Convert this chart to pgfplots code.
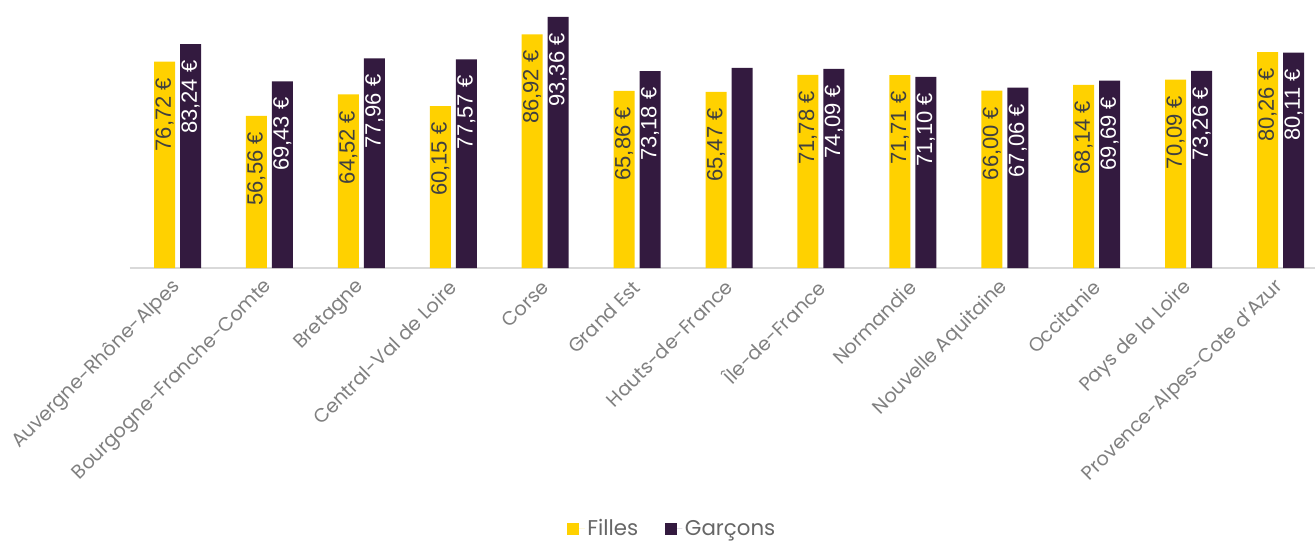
\documentclass[border=0pt]{standalone}
\usepackage{pgfplots}
\pgfplotsset{compat=1.18}
\usepackage{fontspec}
\setmainfont{Poppins}
\newfontfamily\valfont{Liberation Sans}

\definecolor{filles}{HTML}{FFD100}
\definecolor{garcons}{HTML}{331A3F}
\definecolor{ticktxt}{HTML}{808080}
\definecolor{legtxt}{HTML}{666666}
\definecolor{baseline}{HTML}{D9D9D9}

\begin{document}
\begin{tikzpicture}
\begin{axis}[
    at={(0pt,0pt)}, anchor=south west,
    scale only axis,
    width=888.75pt, height=201pt,
    xmin=-0.517, xmax=12.375,
    ymin=0, ymax=99.66,
    enlargelimits=false,
    clip=false,
    ybar=3.75pt, bar width=15.75pt,
    hide y axis,
    axis x line*=bottom,
    axis line style={draw=baseline, line width=1pt},
    x axis line style={-},
    major tick length=0pt,
    xtick={0,...,12},
    xticklabels={Auvergne-Rhône-Alpes, Bourgogne-Franche-Comte, Bretagne,
      Central-Val de Loire, Corse, Grand Est, Hauts-de-France, Île-de-France,
      Normandie, Nouvelle Aquitaine, Occitanie, Pays de la Loire,
      Provence-Alpes-Cote d'Azur},
    xticklabel style={rotate=45, anchor=east, inner sep=0pt,
      font=\fontsize{14.5}{16}\selectfont, text=ticktxt},
    xticklabel shift=12pt,
    nodes near coords,
    point meta=explicit symbolic,
    every node near coord/.append style={rotate=90, anchor=east,
      inner xsep=12pt, inner ysep=0pt,
      font=\valfont\fontsize{16.5}{17}\selectfont},
    legend columns=2,
    legend style={at={(0.458,-0.972)}, anchor=center, draw=none, fill=none,
      font=\fontsize{16}{18}\selectfont, text=legtxt,
      /tikz/every even column/.append style={column sep=18pt}},
    legend image code/.code={\fill[#1] (0pt,-4.5pt) rectangle (9pt,4.5pt);
      \path (0pt,0pt) -- (13pt,0pt);},
]
\addplot[fill=filles, draw=none,
  every node near coord/.append style={text=black!75}] coordinates {
  (0,76.72) [76,72 €]
  (1,56.56) [56,56 €]
  (2,64.52) [64,52 €]
  (3,60.15) [60,15 €]
  (4,86.92) [86,92 €]
  (5,65.86) [65,86 €]
  (6,65.47) [65,47 €]
  (7,71.78) [71,78 €]
  (8,71.71) [71,71 €]
  (9,66.00) [66,00 €]
  (10,68.14) [68,14 €]
  (11,70.09) [70,09 €]
  (12,80.26) [80,26 €]
};
\addlegendentry{Filles}
\addplot[fill=garcons, draw=none,
  every node near coord/.append style={text=white}] coordinates {
  (0,83.24) [83,24 €]
  (1,69.43) [69,43 €]
  (2,77.96) [77,96 €]
  (3,77.57) [77,57 €]
  (4,93.36) [93,36 €]
  (5,73.18) [73,18 €]
  (6,74.40) []
  (7,74.09) [74,09 €]
  (8,71.10) [71,10 €]
  (9,67.06) [67,06 €]
  (10,69.69) [69,69 €]
  (11,73.26) [73,26 €]
  (12,80.11) [80,11 €]
};
\addlegendentry{Garçons}
\end{axis}
\pgfresetboundingbox
\path (-97.5pt,-206.25pt) rectangle (888.75pt,201pt);
\end{tikzpicture}
\end{document}
